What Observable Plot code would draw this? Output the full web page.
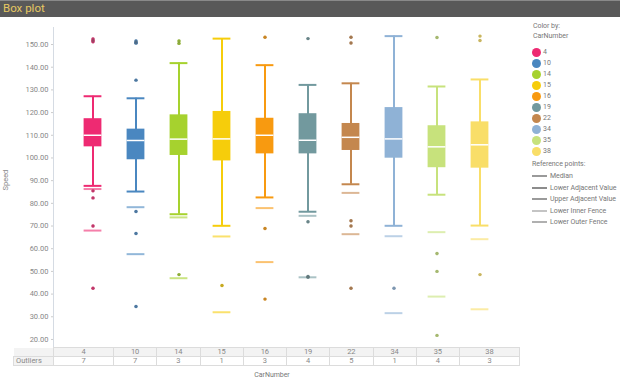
<!DOCTYPE html>
<html>
<head>
<meta charset="utf-8">
<script src="https://cdn.jsdelivr.net/npm/d3@7"></script>
<script src="https://cdn.jsdelivr.net/npm/@observablehq/plot@0.6"></script>
<style>
  html, body { margin: 0; padding: 0; background: #fff; }
  #root { position: relative; width: 620px; height: 389px; overflow: hidden; font-family: Roboto, "Noto Sans", sans-serif; }
  #titlebar { position: absolute; left: 0; top: 0; width: 620px; height: 17px; background: #595959; border-top: 1px solid #8a8a8a; box-sizing: border-box; }
  #titlebar span { position: absolute; left: 3px; top: 0px; font-size: 11.5px; color: #e5c862; line-height: 15px; }
  #chart { position: absolute; left: 0; top: 17px; }
  .abs { position: absolute; white-space: nowrap; }
  .lg { font-size: 7px; color: #777; line-height: 10px; letter-spacing: -0.05px; }
  table.out { position: absolute; left: 13px; top: 347px; border-collapse: collapse; font-size: 7.5px; color: #888; table-layout: fixed; }
  table.out td { border: 1px solid #dcdcdc; text-align: center; height: 8px; padding: 0; line-height: 8px; }
  table.out tr.hd td { background: #f3f3f3; }
  table.out td.lab { text-align: left; background: #f3f3f3; padding-left: 2px; }
  table.out td.blank { border: none; background: #fff; }
</style>
</head>
<body>
<div id="root">
  <div id="titlebar"><span>Box plot</span></div>
  <div id="chart"></div>
</div>
<script>
// ---- data ----
const cars = ["4", "10", "14", "15", "16", "19", "22", "34", "35", "38"];
const colors = ["#ee2a72", "#4a87c0", "#a6d22e", "#f6cd0b", "#f89a10", "#72999e", "#c4874e", "#8fb2d6", "#c7e27c", "#f9de68"];
const upperAdj   = [127.2, 126.3, 141.8, 152.6, 140.9, 132.2, 132.9, 153.7, 131.5, 134.6];
const q3         = [117.3, 112.7, 119.0, 120.5, 117.5, 119.5, 115.2, 122.2, 114.2, 115.9];
const median     = [110.0, 107.7, 108.3, 108.4, 110.0, 107.8, 109.1, 108.4, 104.9, 105.8];
const q1         = [104.9,  99.2, 101.1,  98.7, 101.8, 101.8, 103.3,  99.9,  95.7,  95.5];
const lowerAdj   = [ 87.7,  85.2,  75.2,  70.1,  82.6,  76.3,  88.4,  70.1,  83.8,  70.2];
const innerFence = [ 86.3,  78.3,  73.8,  65.4,  77.9,  74.5,  84.6,  65.5,  67.3,  64.2];
const outerFence = [ 68.0,  57.6,  47.0,  32.0,  54.1,  47.4,  66.4,  31.6,  38.9,  33.3];
const outliers = [
  [151.2, 151.8, 152.4, 85.5, 82.4, 70.0, 42.6],
  [150.6, 151.0, 151.6, 134.3, 76.4, 66.7, 34.5],
  [150.5, 151.6, 48.6],
  [43.8],
  [153.2, 68.9, 37.8],
  [152.6, 71.9, 47.8, 47.4],
  [153.2, 150.7, 72.3, 70.0, 42.6],
  [42.6],
  [153.1, 57.9, 50.0, 21.8],
  [153.7, 151.8, 48.6]
];
const outlierCounts = [7, 7, 3, 1, 3, 4, 5, 1, 4, 3];
const speedTicks = [20, 30, 40, 50, 60, 70, 80, 90, 100, 110, 120, 130, 140, 150];
const refNames = ["Median", "Lower Adjacent Value", "Upper Adjacent Value", "Lower Inner Fence", "Lower Outer Fence"];
const refColors = ["#9a9a9a", "#8c8c8c", "#9a9a9a", "#c4c4c4", "#b0b0b0"];

// ---- build rows ----
const rows = cars.map((c, i) => ({
  car: c, upperAdj: upperAdj[i], q3: q3[i], median: median[i], q1: q1[i],
  lowerAdj: lowerAdj[i], innerFence: innerFence[i], outerFence: outerFence[i]
}));
const outRows = cars.flatMap((c, i) => outliers[i].map(v => ({car: c, v})));

const inset = 12.6;
const chart = Plot.plot({
  width: 620,
  height: 372,
  marginLeft: 53,
  marginRight: 118,
  marginTop: 10,
  marginBottom: 42,
  style: {fontFamily: "Roboto, sans-serif", fontSize: "7.5px", color: "#888", background: "transparent"},
  x: {type: "band", domain: cars, range: [70.5, 501.5], padding: 0, axis: null},
  y: {domain: [16.46, 157.5], axis: null},
  color: {domain: cars, range: colors},
  marks: [
    Plot.frame({anchor: "left", stroke: "#d5dbe3"}),
    Plot.axisY({ticks: speedTicks, tickFormat: d3.format(".2f"), tickSize: 2, tickPadding: 3, label: null, stroke: "#ccc", fill: "#888"}),
    Plot.text(["Speed"], {frameAnchor: "left", rotate: -90, dx: -48, dy: 3, fill: "#888", fontSize: 7.5}),
    Plot.ruleX(rows, {x: "car", y1: "lowerAdj", y2: "upperAdj", stroke: "car", strokeWidth: 2}),
    Plot.barY(rows, {x: "car", y1: "q1", y2: "q3", fill: "car", insetLeft: inset, insetRight: inset}),
    Plot.tickY(rows, {x: "car", y: "upperAdj", stroke: "car", strokeWidth: 2, insetLeft: inset, insetRight: inset}),
    Plot.tickY(rows, {x: "car", y: "lowerAdj", stroke: "car", strokeWidth: 2, insetLeft: inset, insetRight: inset}),
    Plot.tickY(rows, {x: "car", y: "median", stroke: "#fff", strokeWidth: 1.5, insetLeft: inset, insetRight: inset}),
    Plot.tickY(rows, {x: "car", y: "innerFence", stroke: "car", strokeOpacity: 0.6, strokeWidth: 2, insetLeft: inset, insetRight: inset}),
    Plot.tickY(rows, {x: "car", y: "outerFence", stroke: "car", strokeOpacity: 0.6, strokeWidth: 2, insetLeft: inset, insetRight: inset}),
    Plot.dot(outRows, {x: "car", y: "v", r: 1.7, fill: "car"}),
    Plot.dot(outRows, {x: "car", y: "v", r: 1.7, fill: "#555", fillOpacity: 0.3})
  ]
});
document.getElementById("chart").appendChild(chart);

const root = d3.select("#root");

// ---- legend ----
root.append("div").attr("class", "abs lg").style("left", "533px").style("top", "21px").text("Color by:");
root.append("div").attr("class", "abs lg").style("left", "533px").style("top", "31px").text("CarNumber");
cars.forEach((c, i) => {
  const cy = 52 + 11 * i;
  root.append("div").attr("class", "abs")
    .style("left", "531.5px").style("top", (cy - 4.5) + "px")
    .style("width", "9px").style("height", "9px").style("border-radius", "50%")
    .style("background", colors[i]);
  root.append("div").attr("class", "abs lg").style("left", "543px").style("top", (cy - 5) + "px").text(c);
});
root.append("div").attr("class", "abs lg").style("left", "532px").style("top", "159px").text("Reference points:");
refNames.forEach((n, i) => {
  const cy = 176 + 11.5 * i;
  root.append("div").attr("class", "abs")
    .style("left", "532px").style("top", (cy - 1) + "px")
    .style("width", "15px").style("height", "2px").style("background", refColors[i]);
  root.append("div").attr("class", "abs lg").style("left", "550px").style("top", (cy - 5) + "px").text(n);
});

// ---- outliers table ----
const colW = cars.map((c, i) => (i === 0 || i === cars.length - 1) ? 60 : 43.25);
const table = root.append("table").attr("class", "out");
const cg = table.append("colgroup");
cg.append("col").style("width", "40px");
colW.forEach(w => cg.append("col").style("width", w + "px"));
table.style("width", (40 + d3.sum(colW)) + "px");
const hr = table.append("tr").attr("class", "hd");
hr.append("td").attr("class", "blank");
cars.forEach(c => hr.append("td").text(c));
const orow = table.append("tr");
orow.append("td").attr("class", "lab").text("Outliers");
outlierCounts.forEach(n => orow.append("td").text(n));

root.append("div").attr("class", "abs lg").style("left", "272px").style("top", "370px")
  .style("transform", "translateX(-50%)").text("CarNumber");
</script>
</body>
</html>
